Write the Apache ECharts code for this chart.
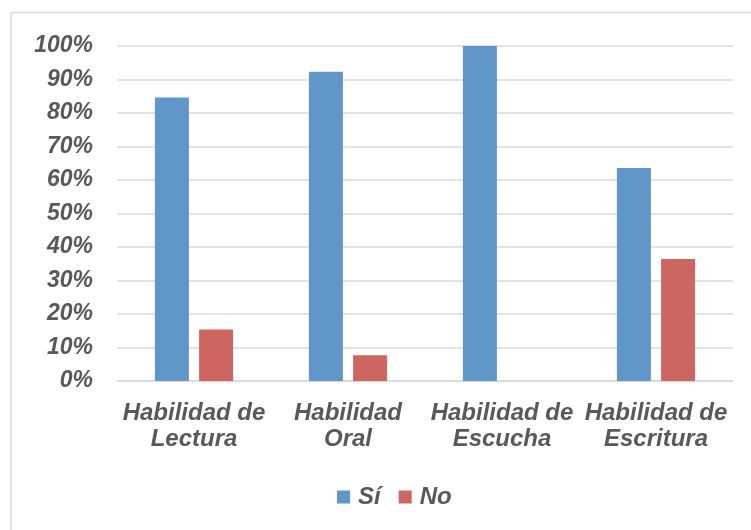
<!DOCTYPE html>
<html><head><meta charset="utf-8">
<script src="https://cdn.jsdelivr.net/npm/echarts@6/dist/echarts.min.js"></script>
<style>html,body{margin:0;padding:0;background:#fff}#c{width:751px;height:530px}</style>
</head><body><div id="c"></div>
<script>
const categories = ['Habilidad de\nLectura', 'Habilidad\nOral', 'Habilidad de\nEscucha', 'Habilidad de\nEscritura'];
const seriesNames = ['Sí', 'No'];
const siValues = [84.6, 92.3, 100, 63.6];
const noValues = [15.4, 7.7, 0, 36.4];
const yTicks = [0, 10, 20, 30, 40, 50, 60, 70, 80, 90, 100];

const font = 'Liberation Sans, Arial, sans-serif';
const txt = {color: '#595959', fontFamily: font, fontWeight: 'bold', fontStyle: 'italic', fontSize: 23};
const chart = echarts.init(document.getElementById('c'));
chart.setOption({
  animation: false,
  graphic: [
    {type: 'line', shape: {x1: 11, y1: 12.5, x2: 751, y2: 12.5}, style: {stroke: '#D9D9D9', lineWidth: 1.5}},
    {type: 'line', shape: {x1: 11, y1: 12, x2: 11, y2: 530}, style: {stroke: '#D9D9D9', lineWidth: 1.5}}
  ],
  grid: {left: 117, right: 18, top: 46, bottom: 149, containLabel: false},
  legend: {
    data: seriesNames, bottom: 16, left: 332, itemWidth: 13, itemHeight: 13, itemGap: 18,
    icon: 'rect', textStyle: Object.assign({}, txt, {fontSize: 24, padding: [0, 0, 0, 3]})
  },
  xAxis: {
    type: 'category', data: categories,
    axisLine: {lineStyle: {color: '#D9D9D9', width: 1.5}},
    axisTick: {show: false},
    axisLabel: Object.assign({}, txt, {fontSize: 24, margin: 19, lineHeight: 26, interval: 0})
  },
  yAxis: {
    type: 'value', min: yTicks[0], max: yTicks[yTicks.length - 1], interval: 10,
    axisLine: {show: false}, axisTick: {show: false},
    splitLine: {lineStyle: {color: '#D9D9D9', width: 1.5}},
    axisLabel: Object.assign({}, txt, {margin: 24, formatter: v => v + '%'})
  },
  series: [
    {name: seriesNames[0], type: 'bar', data: siValues, barWidth: 34, barGap: '30%',
     itemStyle: {color: '#6096CA'}},
    {name: seriesNames[1], type: 'bar', data: noValues, barWidth: 34,
     itemStyle: {color: '#CD6660'}}
  ]
});
</script></body></html>
